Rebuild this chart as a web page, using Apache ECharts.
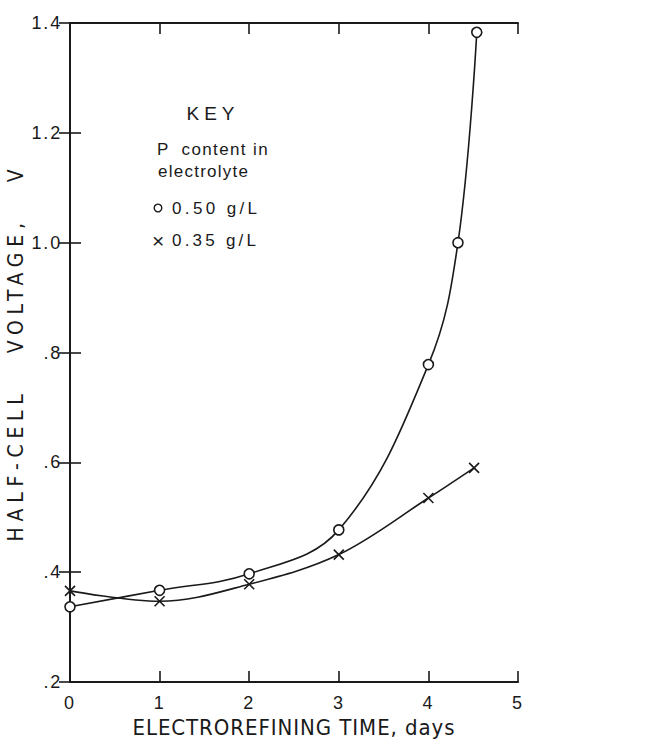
<!DOCTYPE html>
<html><head><meta charset="utf-8">
<script src="https://cdn.jsdelivr.net/npm/echarts@6/dist/echarts.min.js"></script>
<style>html,body{margin:0;padding:0;background:#fff}#c{width:648px;height:744px}#c text{white-space:pre}</style>
</head><body><div id="c"></div>
<script>
// ---- data ----
const daysHigh = [0, 1, 2, 3, 4, 4.33, 4.54];
const voltHigh = [0.337, 0.367, 0.397, 0.477, 0.778, 1.0, 1.383];
const daysLow = [0, 1, 2, 3, 4, 4.51];
const voltLow = [0.366, 0.347, 0.378, 0.432, 0.535, 0.59];
const yTickLabels = {0.2: '.2', 0.4: '.4', 0.6: '.6', 0.8: '.8', 1: '1.0', 1.2: '1.2', 1.4: '1.4'};
const xTickLabels = ['0', '1', '2', '3', '4', '5'];
const xTitle = 'ELECTROREFINING TIME, days';
const yTitle = 'HALF-CELL   VOLTAGE,   V';
const keyLines = ['KEY', 'P  content in', 'electrolyte', '0.50 g/L', '0.35 g/L'];

// ---- fonts ----
function fontAvailable(name) {
  const c = document.createElement('canvas').getContext('2d');
  c.font = '40px monospace'; const a = c.measureText('ELECTROREFINING abc').width;
  c.font = '40px "' + name + '", monospace'; const b = c.measureText('ELECTROREFINING abc').width;
  return Math.abs(a - b) > 0.5;
}
const NARROW = ['Liberation Sans Narrow', 'DejaVu Sans Condensed'].find(fontAvailable);
const FONT = 'Liberation Sans';
const TITLE_FONT = NARROW || FONT;
const X_TITLE_SIZE = NARROW ? 22 : 19;
const Y_TITLE_SIZE = NARROW ? 21 : 18;
const INK = '#1a1a1a';

const chart = echarts.init(document.getElementById('c'), null, {renderer: 'svg'});
const axisLine = {show: true, lineStyle: {color: INK, width: 2}};
const tick = {show: true, inside: true, length: 11, lineStyle: {color: INK, width: 1.6}};
const pairs = (xs, ys) => xs.map((x, i) => [x, ys[i]]);
const txt = (size, fam) => size + 'px "' + (fam || FONT) + '"';

chart.setOption({
  backgroundColor: '#fff',
  animation: false,
  grid: {left: 70, right: 130, top: 23, bottom: 62, containLabel: false, outerBoundsMode: 'none'},
  xAxis: [
    {type: 'value', position: 'bottom', min: 0, max: 5, interval: 1,
     axisLine, axisTick: tick, splitLine: {show: false},
     axisLabel: {color: INK, fontFamily: FONT, fontSize: 18, margin: 12,
                 formatter: v => xTickLabels[Math.round(v)]},
     name: xTitle, nameLocation: 'middle', nameGap: 34,
     nameTextStyle: {color: INK, fontFamily: TITLE_FONT, fontSize: X_TITLE_SIZE}},
    {type: 'value', position: 'top', min: 0, max: 5, interval: 1,
     axisLine, axisTick: tick, splitLine: {show: false}, axisLabel: {show: false}}
  ],
  yAxis: [
    {type: 'value', position: 'left', min: 0.2, max: 1.4, interval: 0.2,
     axisLine, axisTick: tick, splitLine: {show: false},
     axisLabel: {color: INK, fontFamily: FONT, fontSize: 18, margin: 8,
                 formatter: v => yTickLabels[Math.round(v * 10) / 10]},
     name: yTitle, nameLocation: 'middle', nameGap: 42, nameRotate: 90,
     nameTextStyle: {color: INK, fontFamily: TITLE_FONT, fontSize: Y_TITLE_SIZE}},
    {type: 'value', position: 'right', min: 0.2, max: 1.4, interval: 0.2,
     axisLine, axisTick: tick, splitLine: {show: false}, axisLabel: {show: false}}
  ],
  series: [
    {type: 'line', name: '0.50 g/L', data: pairs(daysHigh, voltHigh), smooth: 0.38,
     symbol: 'circle', symbolSize: 10, showAllSymbol: true,
     lineStyle: {color: INK, width: 1.6},
     itemStyle: {color: '#fff', borderColor: INK, borderWidth: 1.6}, z: 3},
    {type: 'line', name: '0.35 g/L', data: pairs(daysLow, voltLow), smooth: 0.35,
     symbol: 'path://M0,0L10,10M10,0L0,10', symbolSize: 10, showAllSymbol: true,
     lineStyle: {color: INK, width: 1.6},
     itemStyle: {color: 'none', borderColor: INK, borderWidth: 1.6}, z: 2}
  ],
  graphic: [
    {type: 'text', x: 213, y: 113, style: {text: keyLines[0], font: txt(19), fill: INK, align: 'center', verticalAlign: 'middle'}},
    {type: 'text', x: 157, y: 149, style: {text: keyLines[1], font: txt(17), fill: INK, verticalAlign: 'middle'}},
    {type: 'text', x: 158, y: 171, style: {text: keyLines[2], font: txt(17), fill: INK, verticalAlign: 'middle'}},
    {type: 'circle', shape: {cx: 158, cy: 208, r: 3.8}, style: {fill: '#fff', stroke: INK, lineWidth: 1.4}},
    {type: 'text', x: 172, y: 208, style: {text: keyLines[3], font: txt(17), fill: INK, verticalAlign: 'middle'}},
    {type: 'text', x: 158, y: 240, style: {text: '×', font: txt(21), fill: INK, align: 'center', verticalAlign: 'middle'}},
    {type: 'text', x: 172, y: 240, style: {text: keyLines[4], font: txt(17), fill: INK, verticalAlign: 'middle'}}
  ]
});

// letter spacing to imitate the wide hand lettering of the original
const targetWidth = {};
targetWidth[xTitle] = 322; targetWidth[yTitle] = 372;
targetWidth[keyLines[0]] = 48; targetWidth[keyLines[1]] = 111; targetWidth[keyLines[2]] = 90;
targetWidth[keyLines[3]] = 85; targetWidth[keyLines[4]] = 84;
function applySpacing() {
  const ctx = document.createElement('canvas').getContext('2d');
  document.querySelectorAll('#c svg text').forEach(t => {
    const s = t.textContent;
    const cs = getComputedStyle(t);
    const size = parseFloat(cs.fontSize) || 16;
    ctx.font = cs.fontStyle + ' ' + cs.fontWeight + ' ' + cs.fontSize + ' ' + cs.fontFamily;
    let ls = s === '×' ? 0 : 0.1 * size;
    if (targetWidth[s]) {
      const w = ctx.measureText(s).width;
      ls = Math.max(0, (targetWidth[s] - w) / Math.max(1, s.length - 1));
    }
    t.style.letterSpacing = ls.toFixed(2) + 'px';
    t.setAttribute('xml:space', 'preserve');
  });
}
applySpacing();
chart.on('finished', applySpacing);
</script></body></html>
